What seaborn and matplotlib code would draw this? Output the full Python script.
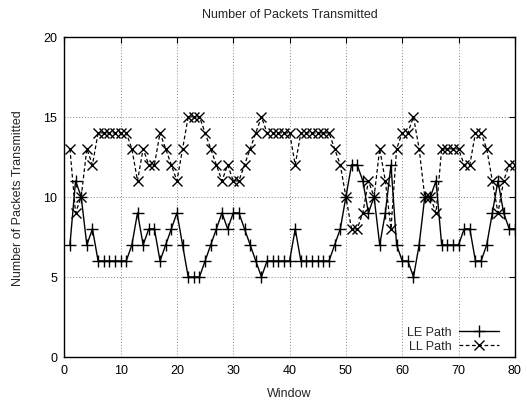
import numpy as np
import pandas as pd
import matplotlib
matplotlib.use("Agg")
import matplotlib.pyplot as plt
import seaborn as sns

# Packets transmitted per window on each path
window = list(range(1, 81))
le_path = [7, 11, 10, 7, 8, 6, 6, 6, 6, 6, 6, 7, 9, 7, 8, 8, 6, 7, 8, 9,
           7, 5, 5, 5, 6, 7, 8, 9, 8, 9, 9, 8, 7, 6, 5, 6, 6, 6, 6, 6,
           8, 6, 6, 6, 6, 6, 6, 7, 8, 10, 12, 12, 11, 9, 10, 7, 9, 12, 7, 6,
           6, 5, 7, 10, 10, 11, 7, 7, 7, 7, 8, 8, 6, 6, 7, 9, 11, 9, 8, 8]
ll_path = [13, 9, 10, 13, 12, 14, 14, 14, 14, 14, 14, 13, 11, 13, 12, 12, 14, 13, 12, 11,
           13, 15, 15, 15, 14, 13, 12, 11, 12, 11, 11, 12, 13, 14, 15, 14, 14, 14, 14, 14,
           12, 14, 14, 14, 14, 14, 14, 13, 12, 10, 8, 8, 9, 11, 10, 13, 11, 8, 13, 14,
           14, 15, 13, 10, 10, 9, 13, 13, 13, 13, 12, 12, 14, 14, 13, 11, 9, 11, 12, 12]
x_ticks = [0, 10, 20, 30, 40, 50, 60, 70, 80]
y_ticks = [0, 5, 10, 15, 20]

df = pd.DataFrame({"Window": window, "LE Path": le_path, "LL Path": ll_path})

sns.set_style("white")
plt.rcParams["font.family"] = ["Liberation Sans", "DejaVu Sans"]
plt.rcParams["font.size"] = 9

fig = plt.figure(figsize=(5.27, 4.02), dpi=100)
ax = fig.add_axes([0.122, 0.1095, 0.855, 0.7965])

sns.lineplot(data=df, x="Window", y="LE Path", ax=ax, color="black",
             linewidth=1.0, marker="+", markersize=8, markeredgewidth=1.0,
             markeredgecolor="black", label="LE Path")
sns.lineplot(data=df, x="Window", y="LL Path", ax=ax, color="black",
             linewidth=0.9, linestyle=(0, (3, 2)), marker="x", markersize=7,
             markeredgewidth=1.0, markeredgecolor="black", label="LL Path")

ax.set_xlim(0, 80)
ax.set_ylim(0, 20)
ax.set_xticks(x_ticks)
ax.set_yticks(y_ticks)
ax.tick_params(direction="in", length=4, width=0.8, top=True, right=True,
               labelsize=9, colors="black", pad=5)
ax.grid(True, color="#888888", linestyle=(0, (1, 2)), linewidth=0.7)
for sp in ax.spines.values():
    sp.set_visible(True)
    sp.set_color("black")
    sp.set_linewidth(1.0)

ax.set_title("Number of Packets Transmitted", fontsize=9, pad=14)
ax.set_xlabel("Window", fontsize=9, labelpad=8)
ax.set_ylabel("Number of Packets Transmitted", fontsize=9, labelpad=14)

ax.legend(loc="lower right", bbox_to_anchor=(0.965, 0.015), frameon=False,
          markerfirst=False, fontsize=9, handlelength=3.2, handletextpad=0.6,
          labelspacing=0.15, borderaxespad=0.0, borderpad=0.0)

fig.savefig("out.png", dpi=100)
